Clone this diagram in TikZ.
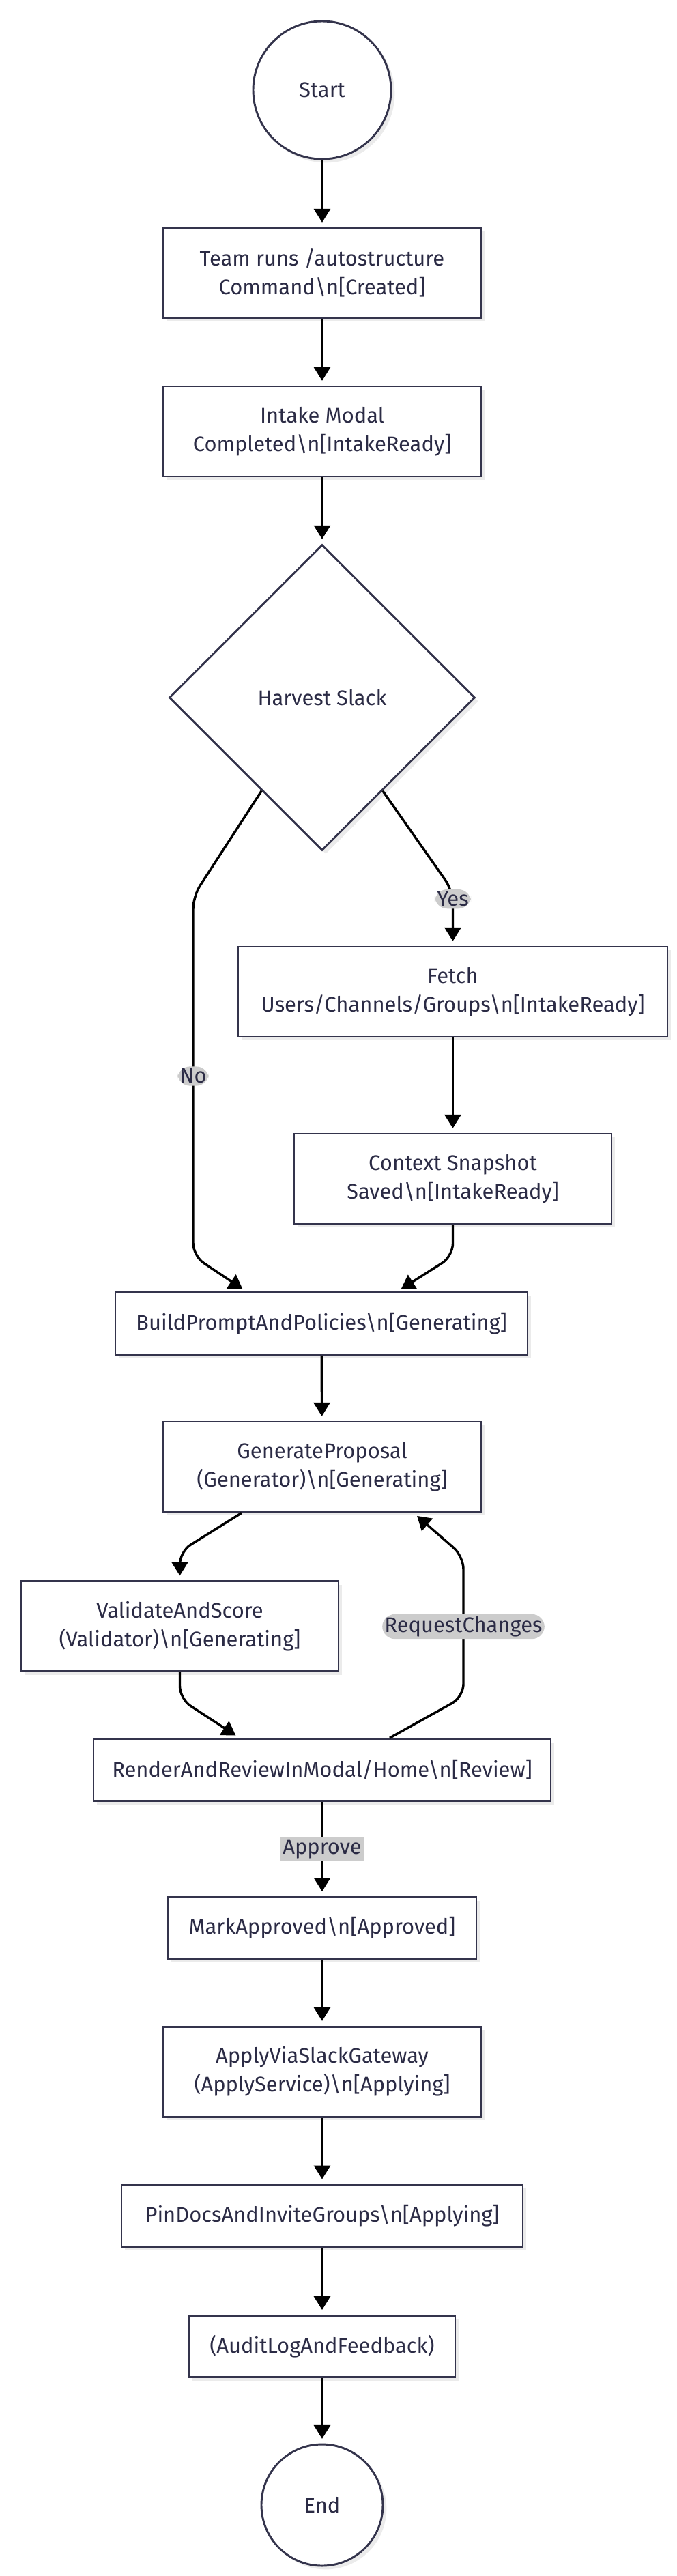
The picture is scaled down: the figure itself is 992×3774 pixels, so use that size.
\documentclass[tikz,border=0pt]{standalone}
\usepackage{fontspec}
\setmainfont{Fira Sans}
\usepackage{xcolor}
\usetikzlibrary{shapes.geometric, arrows.meta, positioning, calc, shadows}

\definecolor{inkblue}{HTML}{2B2B45}
\definecolor{boxline}{HTML}{34344C}
\definecolor{tagfill}{HTML}{CCCCCC}

\begin{document}
\begin{tikzpicture}[
  x=0.75pt, y=-0.75pt,
  every node/.style={font=\fontsize{23.2}{31.5}\selectfont, text=inkblue},
  boxshadow/.style={drop shadow={shadow xshift=4pt, shadow yshift=-4pt, fill=black!8, opacity=1}},
  stepbox/.style={draw=boxline, line width=2.2pt, fill=white, align=center,
    inner sep=0pt, minimum width=348.75pt, minimum height=99pt, boxshadow},
  flatbox/.style={stepbox, minimum height=68pt},
  terminal/.style={circle, draw=boxline, line width=2.2pt, fill=white, inner sep=0pt, boxshadow},
  decision/.style={diamond, aspect=1, draw=boxline, line width=2.2pt, fill=white,
    inner sep=0pt, minimum width=336pt, minimum height=336pt, boxshadow},
  flow/.style={-{Triangle[length=15pt,width=18pt]}, line width=2.6pt, black, shorten >=5pt},
  tag/.style={fill=tagfill, inner sep=2.5pt, text=inkblue}
]
  \useasboundingbox (0,0) rectangle (992,3774);

  %% Intake
  \node[terminal, minimum size=151.5pt] (start) at (472,132) {Start};
  \node[stepbox] (team)   at (472,400) {Team runs /autostructure\\Command\textbackslash n[Created]};
  \node[stepbox] (intake) at (472,632) {Intake Modal\\Completed\textbackslash n[IntakeReady]};
  \node[decision] (harvest) at (472,1022) {Harvest Slack};
  \node[stepbox, minimum width=471.75pt] (fetch) at (663.5,1453) {Fetch\\Users/Channels/Groups\textbackslash n[IntakeReady]};
  \node[stepbox] (context) at (663.5,1727) {Context Snapshot\\Saved\textbackslash n[IntakeReady]};

  %% Generation and review
  \node[flatbox, minimum width=453pt] (build) at (471,1939) {BuildPromptAndPolicies\textbackslash n[Generating]};
  \node[stepbox] (generate) at (472,2149) {GenerateProposal\\(Generator)\textbackslash n[Generating]};
  \node[stepbox] (validate) at (263.5,2382.5) {ValidateAndScore\\(Validator)\textbackslash n[Generating]};
  \node[flatbox, minimum width=502.5pt] (render) at (472,2593) {RenderAndReviewInModal/Home\textbackslash n[Review]};

  %% Apply
  \node[flatbox, minimum width=339pt] (approved) at (472,2824.5) {MarkApproved\textbackslash n[Approved]};
  \node[stepbox] (apply) at (472,3035) {ApplyViaSlackGateway\\(ApplyService)\textbackslash n[Applying]};
  \node[flatbox, minimum width=441pt] (pindocs) at (472,3246) {PinDocsAndInviteGroups\textbackslash n[Applying]};
  \node[flatbox, minimum width=292.5pt] (audit) at (472,3437.5) {(AuditLogAndFeedback)};
  \node[terminal, minimum size=133.5pt] (end) at (472,3670) {End};

  %% Connectors
  \draw[flow] (start) -- (team);
  \draw[flow] (team) -- (intake);
  \draw[flow] (intake) -- (harvest);
  \draw[flow, rounded corners=14pt] (harvest.237) -- (283,1313)
    -- node[tag]{No} (283,1840) -- ($(build.north)+(-110,0)$);
  \draw[flow, rounded corners=14pt] (harvest.303) -- (663.5,1305)
    -- node[tag, pos=0.15]{Yes} (fetch.north);
  \draw[flow] (fetch) -- (context);
  \draw[flow, rounded corners=14pt] (context.south) -- ++(0,46) -- ($(build.north)+(111,0)$);
  \draw[flow] (build) -- (generate);
  \draw[flow, rounded corners=14pt] ($(generate.south)+(-118,0)$) -- ($(validate.north)+(0,-42)$) -- (validate.north);
  \draw[flow, rounded corners=14pt] (validate.south) -- ++(0,39) -- ($(render.north)+(-121,0)$);
  \draw[flow, rounded corners=14pt] ($(render.north)+(99,0)$) -- (679,2486)
    -- node[tag]{RequestChanges} (679,2280) -- ($(generate.south)+(134,0)$);
  \draw[flow] (render) -- node[tag]{Approve} (approved);
  \draw[flow] (approved) -- (apply);
  \draw[flow] (apply) -- (pindocs);
  \draw[flow] (pindocs) -- (audit);
  \draw[flow] (audit) -- (end);
\end{tikzpicture}
\end{document}
